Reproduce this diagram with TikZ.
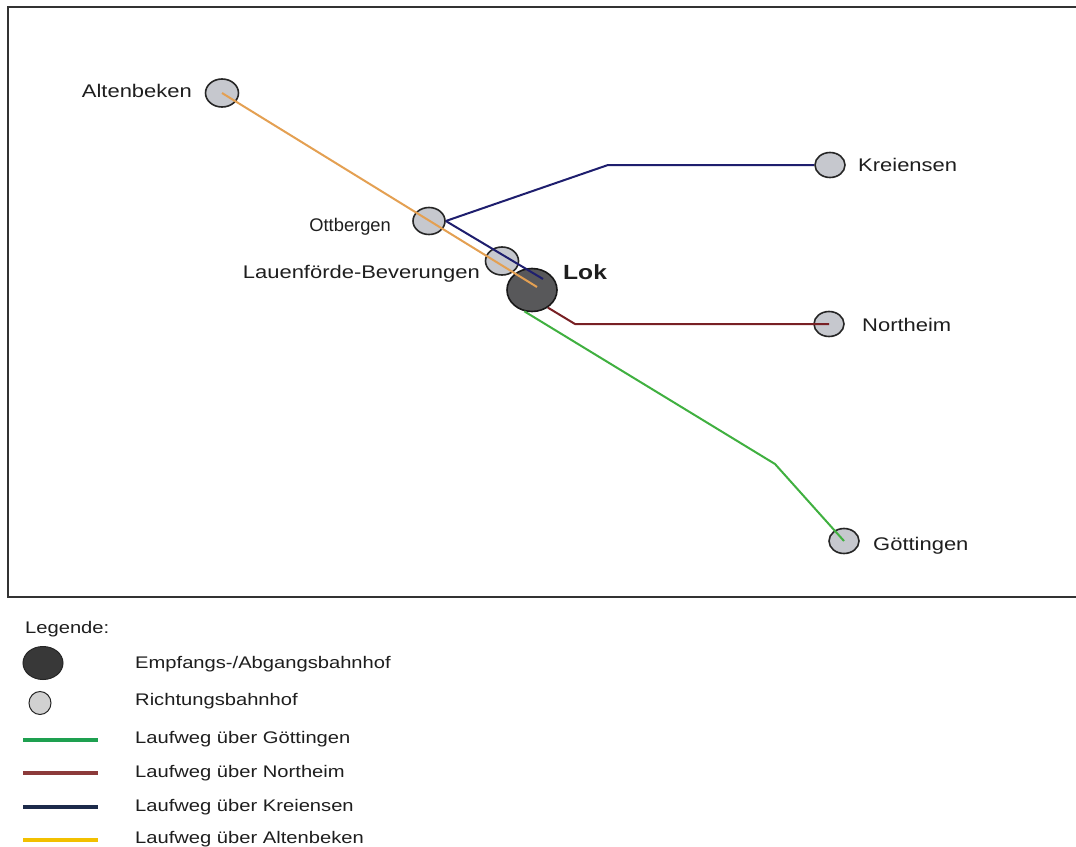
\documentclass[tikz,border=0pt]{standalone}
\usepackage{fontspec}
\setmainfont[FakeStretch=1.2]{Liberation Sans}
\newfontfamily\plainfont{Liberation Sans}
\usetikzlibrary{shapes.geometric,calc}
\definecolor{txt}{RGB}{30,30,30}
\definecolor{stfill}{RGB}{198,200,206}
\definecolor{lokfill}{RGB}{88,88,90}
\definecolor{cOrange}{RGB}{228,160,82}
\definecolor{cBlue}{RGB}{30,30,110}
\definecolor{cRed}{RGB}{120,32,36}
\definecolor{cGreen}{RGB}{64,176,64}
\definecolor{lgGreen}{RGB}{30,160,80}
\definecolor{lgRed}{RGB}{140,58,58}
\definecolor{lgBlue}{RGB}{28,42,74}
\definecolor{lgYellow}{RGB}{242,192,0}
\tikzset{
  stn/.style={ellipse,draw=black!85,line width=1.6pt,fill=stfill,inner sep=0pt,minimum width=30pt,minimum height=25pt},
  lokstn/.style={ellipse,draw=black!90,line width=1.6pt,fill=lokfill,inner sep=0pt,minimum width=50pt,minimum height=43pt},
  lbl/.style={inner sep=0pt,text=txt,font=\fontsize{18.3}{20}\selectfont},
  leg/.style={inner sep=0pt,text=txt,font=\fontsize{16.8}{19}\selectfont,anchor=base west},
  route/.style={line width=2pt,line join=round},
  legline/.style={line width=4.5pt},
}
\begin{document}
\begin{tikzpicture}[x=1pt,y=-1pt]
\useasboundingbox (0,0) rectangle (1076,846);
\fill[white] (0,0) rectangle (1076,846);
% frame
\draw[black!80,line width=1.8pt] (1090,7) -- (8,7) -- (8,597) -- (1090,597);

% stations
\node[stn,minimum width=33pt,minimum height=28pt] (alt) at (222,93) {};
\node[stn,minimum width=32pt,minimum height=27pt] (ott) at (429,221) {};
\node[stn,minimum width=33pt,minimum height=28pt] (lau) at (502,261) {};
\node[lokstn] (lok) at (532,290) {};
\node[stn] (kre) at (830,165) {};
\node[stn] (nor) at (829,324) {};
\node[stn] (goe) at (844,541) {};

% bend points
\coordinate (kbend) at (608,165);
\coordinate (nbend) at (575,324);
\coordinate (gbend) at (775,464);
\coordinate (oend) at ($(lok.center)+(5,-3)$);
\coordinate (bend) at ($(lok.center)+(11,-11)$);

% routes
\draw[route,cGreen] (lok.-110) -- (gbend) -- (goe.center);
\draw[route,cRed] (lok.-48) -- (nbend) -- (nor.center);
\draw[route,cBlue] (ott.east) -- (kbend) -- (kre.west);
\draw[route,cBlue] (ott.east) -- (bend);
\draw[route,cOrange] (alt.center) -- (oend);

% labels
\node[lbl,anchor=base east] (altl) at (192,97.5) {Altenbeken};
\node[lbl,anchor=base east,font=\plainfont\fontsize{18.3}{20}\selectfont] (ottl) at (391,231.5) {Ottbergen};
\node[lbl,anchor=base east] (laul) at (480,278) {Lauenförde-Beverungen};
\node[lbl,anchor=base west,font=\bfseries\fontsize{20.5}{22}\selectfont] (lokl) at (563,279) {Lok};
\node[lbl,anchor=base west] (krel) at (858,171.5) {Kreiensen};
\node[lbl,anchor=base west] (norl) at (862,331.5) {Northeim};
\node[lbl,anchor=base west] (goel) at (873,550) {Göttingen};

% legend
\node[leg] (legt) at (25,633) {Legende:};
\node[ellipse,draw=black!85,line width=1pt,fill=black!78,inner sep=0pt,minimum width=40pt,minimum height=33pt] (lg1) at (43,663) {};
\node[ellipse,draw=black!85,line width=1pt,fill=black!18,inner sep=0pt,minimum width=22pt,minimum height=23pt] (lg2) at (40,703) {};
\node[leg] (lt1) at (135,668.5) {Empfangs-/Abgangsbahnhof};
\node[leg] (lt2) at (135,705) {Richtungsbahnhof};
\node[leg] (lt3) at (135,743) {Laufweg über Göttingen};
\node[leg] (lt4) at (135,777) {Laufweg über Northeim};
\node[leg] (lt5) at (135,811.5) {Laufweg über Kreiensen};
\node[leg] (lt6) at (135,843) {Laufweg über Altenbeken};
\coordinate (g1a) at (23,740); \coordinate (g1b) at (98,740);
\coordinate (g2a) at (23,773); \coordinate (g2b) at (98,773);
\coordinate (g3a) at (23,807); \coordinate (g3b) at (98,807);
\coordinate (g4a) at (23,840); \coordinate (g4b) at (98,840);
\draw[legline,lgGreen] (g1a) -- (g1b);
\draw[legline,lgRed] (g2a) -- (g2b);
\draw[legline,lgBlue] (g3a) -- (g3b);
\draw[legline,lgYellow] (g4a) -- (g4b);
\end{tikzpicture}
\end{document}
